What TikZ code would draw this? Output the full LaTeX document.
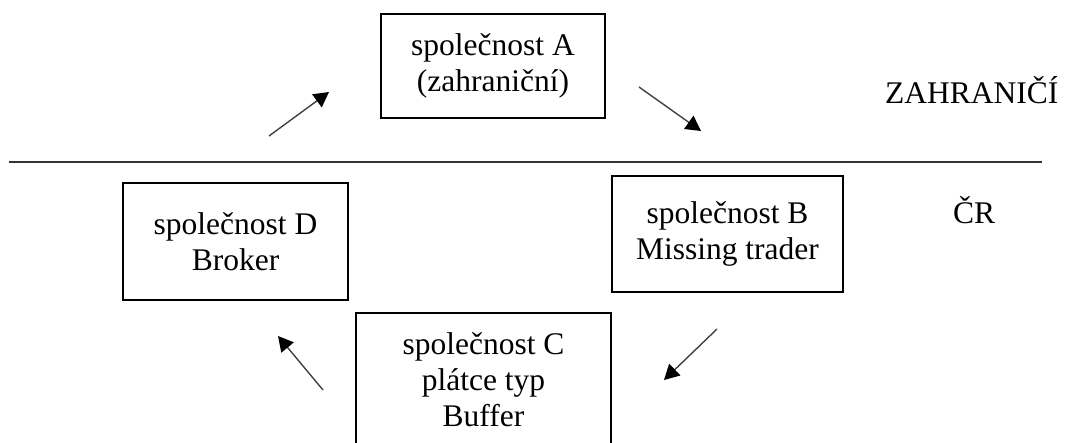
\documentclass[tikz,border=0pt]{standalone}
\usepackage{fontspec}
\setmainfont{Liberation Serif}
\usetikzlibrary{arrows.meta}
\begin{document}
\begin{tikzpicture}[x=1pt,y=-1pt,
  firm/.style={draw=black,line width=2.6pt,align=center,inner sep=0pt,
    font=\fontsize{31.5}{36}\selectfont},
  flow/.style={draw=black!75,line width=1.4pt,
    -{Triangle[length=15pt,width=16pt,color=black,fill=black]}},
  region/.style={font=\fontsize{31.5}{36}\selectfont,anchor=base west,inner sep=0pt},
  border/.style={draw=black!80,line width=1.8pt}]
\useasboundingbox (0,0) rectangle (1065,442);

% companies
\node[firm,minimum width=224pt,minimum height=104pt] (A) at (493,66) {společnost A\\(zahraniční)};
\node[firm,minimum width=231pt,minimum height=116pt] (B) at (727.5,234) {společnost B\\Missing trader};
\node[firm,minimum width=255pt,minimum height=134pt] (C) at (483.5,380) {společnost C\\plátce typ\\Buffer};
\node[firm,minimum width=225pt,minimum height=117pt] (D) at (235.5,241.5) {společnost D\\Broker};

% state border
\coordinate (wl) at (9,162);
\coordinate (wr) at (1042,162);
\draw[border] (wl) -- (wr);

\node[region] (abroad) at (885,103) {ZAHRANIČÍ};
\node[region] (home) at (953,223) {ČR};

% flow of goods
\coordinate (da1) at (269,136); \coordinate (da2) at (329,92);
\coordinate (ab1) at (639,87);  \coordinate (ab2) at (701,131);
\coordinate (bc1) at (717,329); \coordinate (bc2) at (664,380);
\coordinate (cd1) at (323,390); \coordinate (cd2) at (278,336);
\draw[flow] (da1) -- (da2);
\draw[flow] (ab1) -- (ab2);
\draw[flow] (bc1) -- (bc2);
\draw[flow] (cd1) -- (cd2);
\end{tikzpicture}
\end{document}
